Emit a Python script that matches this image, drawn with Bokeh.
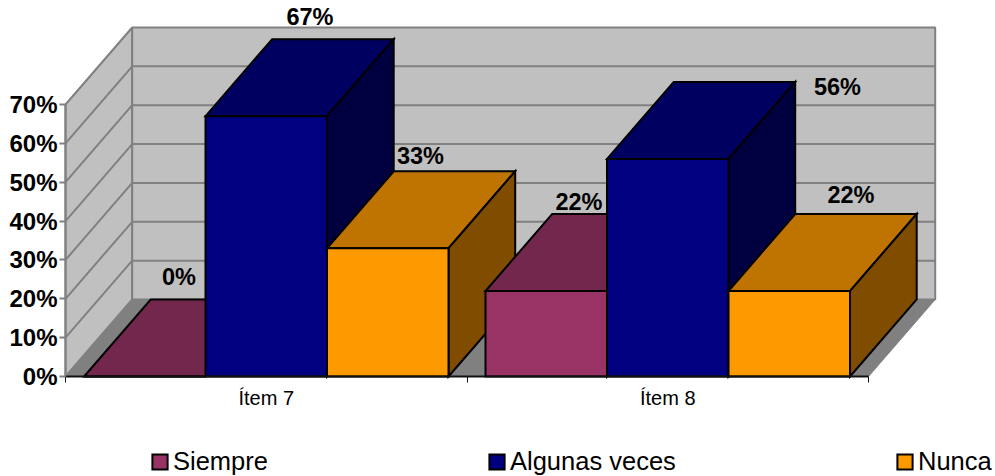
from bokeh.plotting import figure
from bokeh.models import Range1d, FixedTicker, Legend, LegendItem, ColumnDataSource
from bokeh.core.properties import value
from bokeh.embed import file_html
from bokeh.resources import INLINE

categories = ["Ítem 7", "Ítem 8"]
series_names = ["Siempre", "Algunas veces", "Nunca"]
siempre = [0, 22]
algunas_veces = [67, 56]
nunca = [33, 22]
y_ticks = [0, 10, 20, 30, 40, 50, 60, 70]
y_tick_labels = ["0%", "10%", "20%", "30%", "40%", "50%", "60%", "70%"]

series_values = [siempre, algunas_veces, nunca]
front_colors = ["#993366", "#000080", "#FF9900"]
top_colors = ["#73274D", "#000060", "#BF7300"]
side_colors = ["#4D1A33", "#000040", "#804D00"]

W, H = 995, 476
PX_X = 401.5      # pixels per category
PX_Y = 3.886      # pixels per percent
ORIGIN_X, ORIGIN_Y = 65, 376   # origin inside the canvas
DX = 66.7 / PX_X  # depth projection, category units
DY = 77 / PX_Y    # depth projection, percent units
BAR_W = 121.5 / PX_X
GAP = (1 - 3 * BAR_W) / 2
FONT = "Liberation Sans"

p = figure(width=W, height=H, output_backend="svg", toolbar_location=None,
           x_range=Range1d(-ORIGIN_X / PX_X, (W - ORIGIN_X) / PX_X),
           y_range=Range1d((ORIGIN_Y - H) / PX_Y, ORIGIN_Y / PX_Y),
           min_border=0, outline_line_color=None, background_fill_color="white")
p.grid.visible = False

top = y_ticks[-1]
n = len(categories)
# walls and floor
p.patch([0, DX, DX, 0], [0, DY, top + DY, top], fill_color="#C0C0C0", line_color="#808080", line_width=2)
p.patch([DX, n + DX, n + DX, DX], [DY, DY, top + DY, top + DY], fill_color="#C0C0C0", line_color="#808080", line_width=2)
p.patch([0, DX, n + DX, n], [0, DY, DY, 0], fill_color="#808080", line_color="#808080", line_width=1)
grid_v = y_ticks[1:-1]
p.multi_line([[0, DX, n + DX] for v in grid_v], [[v, v + DY, v + DY] for v in grid_v],
             line_color="#808080", line_width=2)

# bars, back to front
label_offsets = {(0, 0): (-32.5, -23), (0, 1): (-23, -22), (0, 2): (-34, -15),
                 (1, 0): (-34, -12), (1, 1): (103, 5), (1, 2): (-5, -19)}
lab = dict(x=[], y=[], text=[], xo=[], yo=[])
front_renderers = {}
for c in range(n):
    for s, vals in enumerate(series_values):
        v = vals[c]
        x0 = c + GAP + s * BAR_W
        x1 = x0 + BAR_W
        style = dict(line_color="black", line_width=2, line_join="miter")
        p.patch([x0, x1, x1 + DX, x0 + DX], [v, v, v + DY, v + DY], fill_color=top_colors[s], **style)
        p.patch([x1, x1 + DX, x1 + DX, x1], [0, DY, v + DY, v], fill_color=side_colors[s], **style)
        front_renderers[s] = p.patch([x0, x1, x1, x0], [0, 0, v, v], fill_color=front_colors[s], **style)
        ox, oy = label_offsets[(c, s)]
        lab["x"].append((x0 + x1) / 2 + DX)
        lab["y"].append(v + DY)
        lab["text"].append(f"{v}%")
        lab["xo"].append(ox)
        lab["yo"].append(oy)

p.text("x", "y", text="text", x_offset="xo", y_offset="yo", source=ColumnDataSource(lab),
       text_font=value(FONT), text_font_style="bold", text_font_size="23.5px",
       text_align="center", text_baseline="middle", text_color="black")

# axes
ax = p.yaxis[0]
ax.fixed_location = 0
ax.bounds = (0, top)
ax.ticker = FixedTicker(ticks=y_ticks)
ax.major_label_overrides = dict(zip(y_ticks, y_tick_labels))
ax.axis_line_color = "#808080"
ax.axis_line_width = 2
ax.major_tick_line_color = "#808080"
ax.major_tick_line_width = 2
ax.major_tick_out = 6
ax.major_tick_in = 0
ax.minor_tick_line_color = None
ax.major_label_standoff = 2
ax.major_label_text_font = FONT
ax.major_label_text_font_style = "bold"
ax.major_label_text_font_size = "24px"
ax.major_label_text_color = "black"

ax = p.xaxis[0]
ax.fixed_location = 0
ax.bounds = (0, n)
ax.ticker = FixedTicker(ticks=[c + 0.5 for c in range(n)], minor_ticks=list(range(n + 1)))
ax.major_label_overrides = {c + 0.5: categories[c] for c in range(n)}
ax.axis_line_color = "#111111"
ax.axis_line_width = 2
ax.major_tick_line_color = None
ax.major_tick_out = 0
ax.major_tick_in = 0
ax.minor_tick_line_color = "#111111"
ax.minor_tick_out = 6
ax.minor_tick_in = 0
ax.minor_tick_line_width = 1
ax.major_label_standoff = 4
ax.major_label_text_font = FONT
ax.major_label_text_font_size = "20px"
ax.major_label_text_color = "black"

# legend: one box per entry, spread across the width
legend_x = [150, 487, 895]
for s, name in enumerate(series_names):
    leg = Legend(items=[LegendItem(label=name, renderers=[front_renderers[s]])],
                 location=(legend_x[s], 0), orientation="horizontal",
                 border_line_color=None, background_fill_alpha=0,
                 padding=0, margin=0, spacing=0, glyph_width=19, glyph_height=19,
                 label_standoff=4, label_height=24, label_text_font=FONT, label_text_font_size="25.5px",
                 label_text_color="black")
    p.add_layout(leg, "center")

open("out.html", "w").write(file_html(p, INLINE))
